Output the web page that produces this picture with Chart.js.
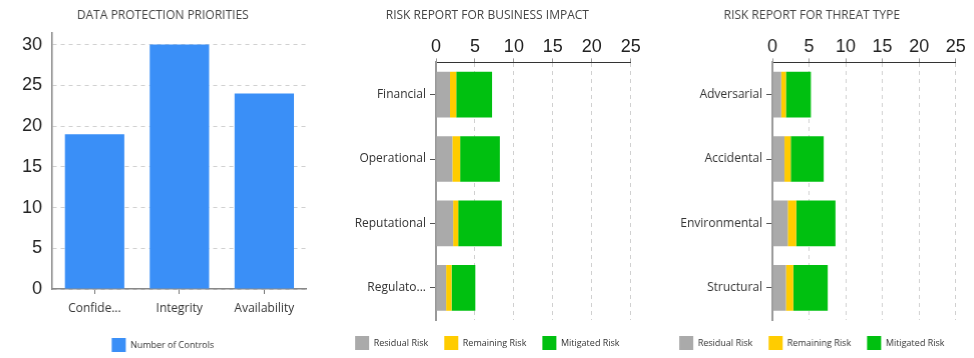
<!DOCTYPE html>
<html>
<head>
<meta charset="utf-8">
<script src="https://cdn.jsdelivr.net/npm/chart.js@4/dist/chart.umd.min.js"></script>
<style>
  html, body { margin: 0; padding: 0; background: #fff; }
  #wrap { display: flex; width: 974px; height: 358px; }
  .cell { width: 324.67px; height: 358px; position: relative; }
</style>
</head>
<body>
<div id="wrap">
  <div class="cell"><canvas id="c1"></canvas></div>
  <div class="cell"><canvas id="c2"></canvas></div>
  <div class="cell"><canvas id="c3"></canvas></div>
</div>
<script>
// ---- Data ----
const priorityTitle = "DATA PROTECTION PRIORITIES";
const priorityCategories = ["Confide...", "Integrity", "Availability"];
const priorityLabel = "Number of Controls";
const priorityValues = [19, 30, 24];

const riskSeriesNames = ["Residual Risk", "Remaining Risk", "Mitigated Risk"];

const impactTitle = "RISK REPORT FOR BUSINESS IMPACT";
const impactCategories = ["Financial", "Operational", "Reputational", "Regulato..."];
const impactResidual  = [1.8, 2.1, 2.2, 1.3];
const impactRemaining = [0.8, 1.0, 0.65, 0.7];
const impactMitigated = [4.6, 5.1, 5.6, 3.05];

const threatTitle = "RISK REPORT FOR THREAT TYPE";
const threatCategories = ["Adversarial", "Accidental", "Environmental", "Structural"];
const threatResidual  = [1.2, 1.65, 2.1, 1.85];
const threatRemaining = [0.65, 0.85, 1.15, 1.0];
const threatMitigated = [3.4, 4.5, 5.35, 4.7];

const valueTicks = [0, 5, 10, 15, 20, 25, 30];

// ---- Styles ----
const BLUE = "#3a8ff7";
const GREY = "#aaaaaa";
const YELLOW = "#ffcc00";
const GREEN = "#00c010";
const SANS = "'Open Sans', sans-serif";
const NUM = "'Liberation Sans', Arial, sans-serif";

Chart.defaults.animation = false;
Chart.defaults.responsive = true;
Chart.defaults.maintainAspectRatio = false;

// Center title and legend on the full canvas width
const centerBlocks = {
  id: "centerBlocks",
  afterLayout(chart) {
    [chart.titleBlock, chart.legend].forEach(b => {
      if (b) { b.left = 0; b.right = chart.width; b.width = chart.width; }
    });
  }
};

function titleOpts(text, bottom) {
  return {
    display: true, text: text, color: "#444",
    font: { family: SANS, size: 12, weight: "normal" },
    padding: { top: 8, bottom: bottom }
  };
}
function legendOpts(pad) {
  return {
    display: true, position: "bottom",
    labels: {
      boxWidth: 14, boxHeight: 14, padding: pad, color: "#333",
      font: { family: SANS, size: 9 }
    }
  };
}

// Chart 1
new Chart(document.getElementById("c1"), {
  type: "bar",
  data: {
    labels: priorityCategories,
    datasets: [{
      label: priorityLabel, data: priorityValues,
      backgroundColor: BLUE, borderWidth: 0,
      categoryPercentage: 1.0, barPercentage: 0.7
    }]
  },
  options: {
    layout: { padding: { left: 0, right: 19, top: 0, bottom: -4 } },
    plugins: {
      title: titleOpts(priorityTitle, 10),
      legend: legendOpts(16),
      tooltip: { enabled: false }
    },
    scales: {
      x: {
        grid: { offset: false, drawOnChartArea: false, drawTicks: true, tickLength: 5, color: "#777" },
        border: { display: true, color: "#888", width: 1.5 },
        ticks: { color: "#333", font: { family: SANS, size: 12 }, padding: 7, maxRotation: 0, autoSkip: false },
        afterFit(s) { s.height = 33; }
      },
      y: {
        min: 0, max: 31.5,
        afterBuildTicks(s) { s.ticks = valueTicks.map(v => ({ value: v })); },
        grid: { color: "#d0d0d0", drawTicks: false },
        border: { display: true, color: "#888", width: 1.5, dash: [4, 4] },
        ticks: { color: "#222", font: { family: NUM, size: 18 }, padding: 10 },
        afterFit(s) { s.width = 52; }
      }
    }
  },
  plugins: [centerBlocks]
});

function riskChart(id, title, cats, res, rem, mit, yWidth) {
  return new Chart(document.getElementById(id), {
    type: "bar",
    data: {
      labels: cats,
      datasets: [
        { label: riskSeriesNames[0], data: res, backgroundColor: GREY },
        { label: riskSeriesNames[1], data: rem, backgroundColor: YELLOW },
        { label: riskSeriesNames[2], data: mit, backgroundColor: GREEN }
      ].map(d => Object.assign(d, { categoryPercentage: 1.0, barPercentage: 0.71, borderWidth: 0 }))
    },
    options: {
      indexAxis: "y",
      layout: { padding: { left: 0, right: 19, top: 0, bottom: -2 } },
      plugins: {
        title: titleOpts(title, 13),
        legend: legendOpts(16),
        tooltip: { enabled: false }
      },
      scales: {
        x: {
          position: "top", stacked: true, min: 0, max: 25,
          afterBuildTicks(s) { s.ticks = valueTicks.filter(v => v <= 25).map(v => ({ value: v })); },
          grid: { color: "#d0d0d0", tickColor: "#999", drawTicks: true, tickLength: 4 },
          border: { display: true, color: "#333", width: 1, dash: [4, 4] },
          ticks: { color: "#222", font: { family: NUM, size: 18 }, padding: 1, maxRotation: 0 },
          afterFit(s) { s.height = 27; }
        },
        y: {
          stacked: true,
          grid: { offset: false, drawOnChartArea: false, drawTicks: true, tickLength: 6, color: "#555" },
          border: { display: true, color: "#999", width: 2 },
          ticks: { color: "#333", font: { family: SANS, size: 12 }, padding: 4, autoSkip: false },
          afterFit(s) { s.width = yWidth; }
        }
      }
    },
    plugins: [centerBlocks]
  });
}

riskChart("c2", impactTitle, impactCategories, impactResidual, impactRemaining, impactMitigated, 111);
riskChart("c3", threatTitle, threatCategories, threatResidual, threatRemaining, threatMitigated, 123);
</script>
</body>
</html>
